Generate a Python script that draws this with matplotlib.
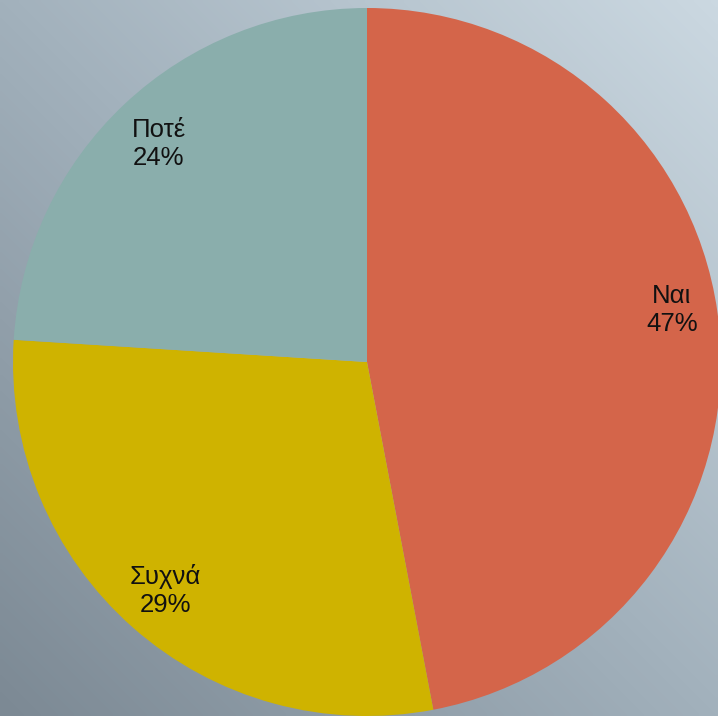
import numpy as np
import matplotlib
matplotlib.use("Agg")
import matplotlib.pyplot as plt
from matplotlib.colors import LinearSegmentedColormap

categories = ["Ναι", "Συχνά", "Ποτέ"]
values = [47, 29, 24]
colors = ["#d4654a", "#cfb300", "#8aaeac"]

plt.rcParams['font.family'] = ['Liberation Sans', 'DejaVu Sans']

W, H = 718, 716
fig = plt.figure(figsize=(W / 100, H / 100), dpi=100)

# background diagonal gradient
bg = fig.add_axes([0, 0, 1, 1])
bg.set_axis_off()
yy, xx = np.mgrid[0:1:200j, 0:1:200j]
t = (xx + (1 - yy)) / 2.0
cmap = LinearSegmentedColormap.from_list("bg", ["#7c8994", "#a2b1bc", "#cbd8e1"])
bg.imshow(t, cmap=cmap, origin="upper", extent=[0, 1, 0, 1], aspect="auto",
          interpolation="bilinear")
bg.set_xlim(0, 1)
bg.set_ylim(0, 1)

cx, cy, r = 367, 362, 354
ax = fig.add_axes([(cx - r) / W, (H - cy - r) / H, 2 * r / W, 2 * r / H])
ax.set_axis_off()
labels = [f"{c}\n{v}%" for c, v in zip(categories, values)]
wedges, texts = ax.pie(values, labels=labels, colors=colors, startangle=90,
                       counterclock=False, labeldistance=0.86, radius=1,
                       textprops=dict(fontsize=18.5, color="#111111", ha="center",
                                      va="center", linespacing=1.2))
x0, y0 = texts[0].get_position()
texts[0].set_position((x0 + 0.005, y0 + 0.065))
x2, y2 = texts[2].get_position()
texts[2].set_position((x2, y2 - 0.012))
ax.set_xlim(-1, 1)
ax.set_ylim(-1, 1)

fig.savefig("out.png", dpi=100)
